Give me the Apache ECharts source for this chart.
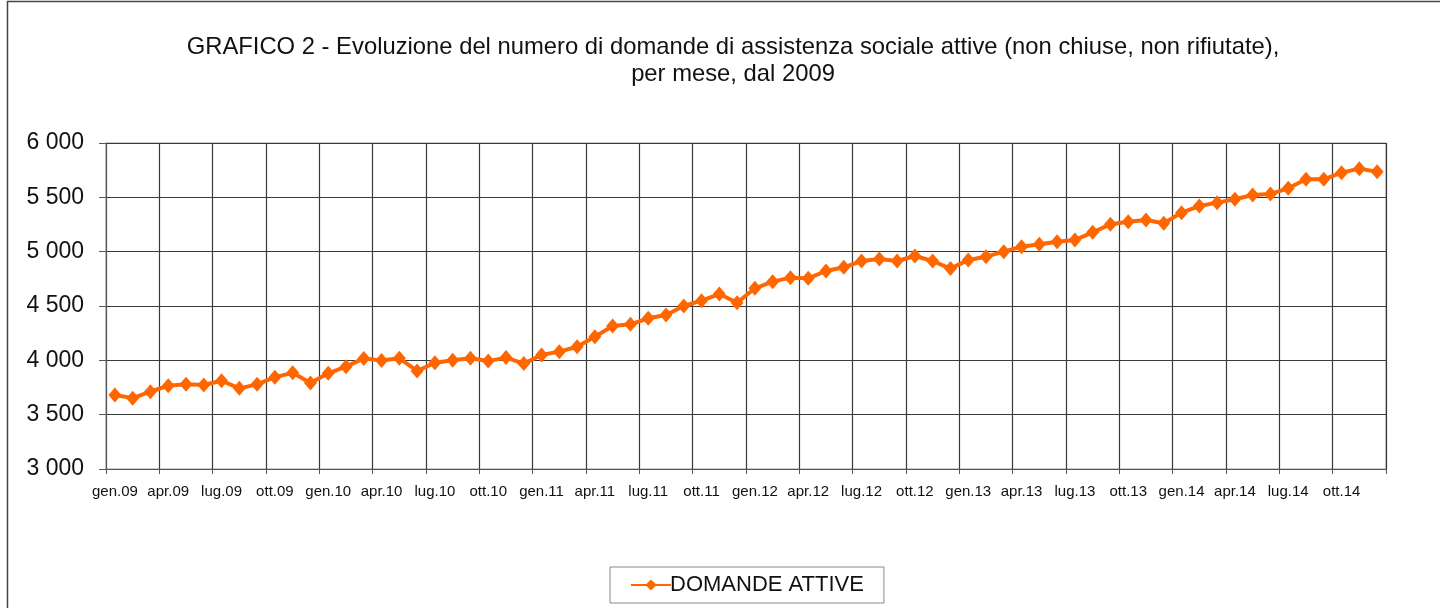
<!DOCTYPE html>
<html>
<head>
<meta charset="utf-8">
<script src="https://cdn.jsdelivr.net/npm/echarts@6/dist/echarts.min.js"></script>
<style>
html,body{margin:0;padding:0;background:#fff;}
#chart{width:1440px;height:608px;}
</style>
</head>
<body>
<div id="chart"></div>
<script>
const monthNames = ['gen','feb','mar','apr','mag','giu','lug','ago','set','ott','nov','dic'];
const years = ['09','10','11','12','13','14'];
const categories = [];
years.forEach(y => monthNames.forEach(m => categories.push(m + '.' + y)));

const domandeAttive = [
  3681, 3652, 3711, 3767, 3779, 3773, 3812, 3742, 3779, 3845, 3885, 3792,
  3881, 3942, 4018, 3999, 4019, 3902, 3978, 4000, 4019, 3993, 4025, 3970,
  4049, 4080, 4125, 4217, 4316, 4331, 4387, 4417, 4500, 4549, 4610, 4530,
  4663, 4724, 4761, 4755, 4822, 4856, 4914, 4932, 4914, 4960, 4914, 4844,
  4923, 4954, 5000, 5046, 5068, 5092, 5107, 5178, 5252, 5276, 5291, 5261,
  5359, 5420, 5451, 5482, 5521, 5531, 5583, 5666, 5666, 5727, 5764, 5736
];

const titleLines = [
  'GRAFICO 2 - Evoluzione del numero di domande di assistenza sociale attive (non chiuse, non rifiutate),',
  'per mese, dal 2009'
];
const seriesName = 'DOMANDE ATTIVE';

const chart = echarts.init(document.getElementById('chart'), null, {renderer: 'canvas'});
const font = '"Liberation Sans", Arial, sans-serif';

chart.setOption({
  animation: false,
  backgroundColor: '#fff',
  textStyle: {fontFamily: font},
  graphic: [{
    type: 'rect',
    shape: {x: 7.5, y: 1.5, width: 1500, height: 700},
    style: {fill: 'none', stroke: '#444', lineWidth: 1.5},
    silent: true
  }],
  title: {
    text: titleLines.join('\n'),
    left: 728,
    textAlign: 'center',
    top: 29,
    textStyle: {fontFamily: font, fontSize: 23.8, fontWeight: 'normal', color: '#111', lineHeight: 27}
  },
  legend: {
    data: [seriesName],
    left: 610,
    top: 567,
    width: 276,
    padding: [7, 20, 7, 20],
    itemWidth: 40,
    itemHeight: 14,
    itemGap: 0,
    borderColor: '#888',
    borderWidth: 1,
    borderRadius: 0,
    textStyle: {fontFamily: font, fontSize: 22, color: '#111', padding: [0, 0, 0, -6]}
  },
  grid: {
    left: 106, right: 54, top: 143, bottom: 139,
    show: true, borderColor: '#999', borderWidth: 1
  },
  xAxis: {
    type: 'category',
    data: categories,
    boundaryGap: true,
    axisLine: {show: true, lineStyle: {color: '#555', width: 1}},
    axisTick: {show: true, interval: 2, length: 5, lineStyle: {color: '#555'}},
    axisLabel: {interval: 2, fontSize: 15, color: '#111', margin: 15, fontFamily: font},
    splitLine: {show: true, interval: 2, lineStyle: {color: '#3a3a3a', width: 1.2}}
  },
  yAxis: {
    type: 'value',
    min: 3000, max: 6000, interval: 500,
    axisLine: {show: true, lineStyle: {color: '#555', width: 1}},
    axisTick: {show: true, length: 7, lineStyle: {color: '#555'}},
    axisLabel: {
      fontSize: 23, color: '#111', margin: 22, fontFamily: font,
      formatter: v => String(v).replace(/\B(?=(\d{3})+(?!\d))/g, ' ')
    },
    splitLine: {show: true, lineStyle: {color: '#3a3a3a', width: 1.2}}
  },
  series: [{
    name: seriesName,
    type: 'line',
    data: domandeAttive,
    symbol: 'diamond',
    symbolSize: [13, 15],
    showSymbol: true,
    showAllSymbol: true,
    lineStyle: {color: '#FF6600', width: 4},
    itemStyle: {color: '#FF6600', borderWidth: 0}
  }]
});
</script>
</body>
</html>
